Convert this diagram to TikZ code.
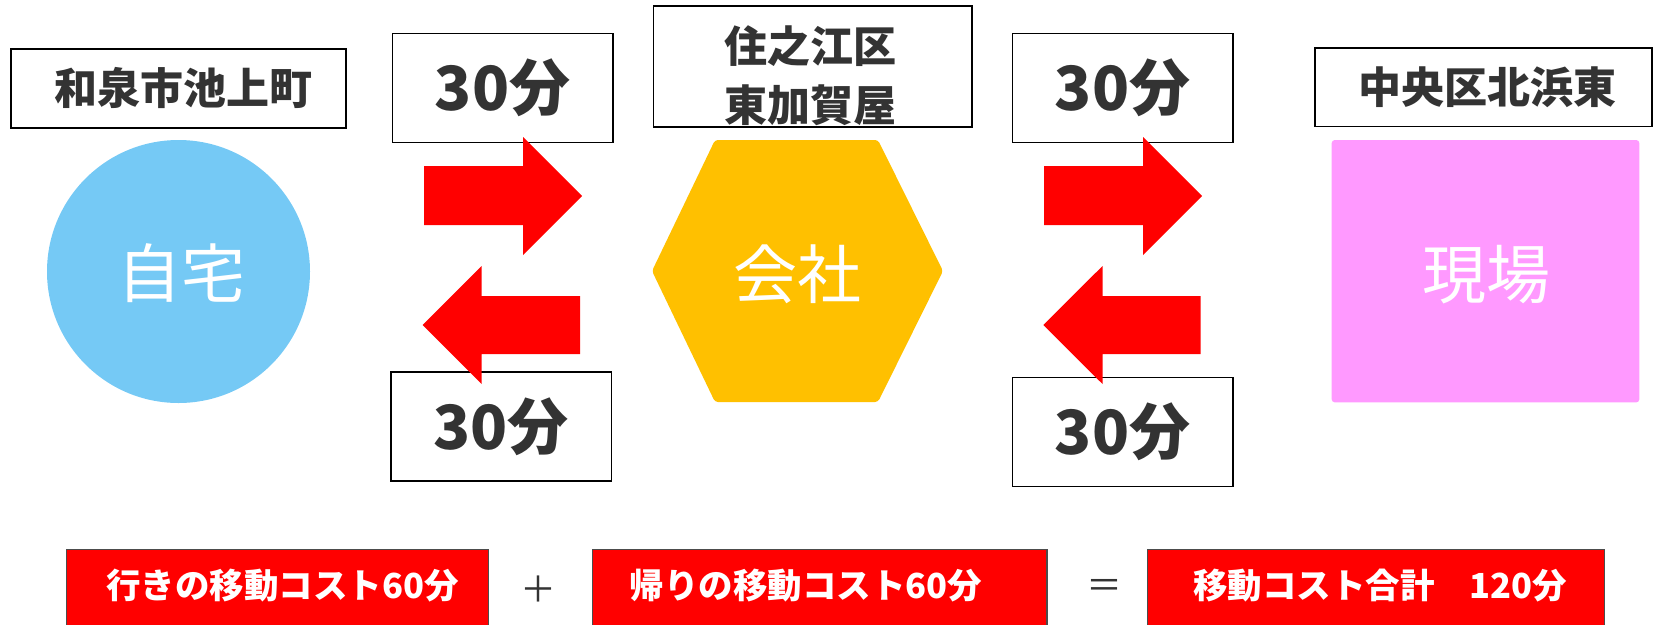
\documentclass[tikz,border=0pt]{standalone}
\usepackage{fontspec}
\newfontfamily\jp{Noto Sans CJK JP}
\definecolor{homeblue}{HTML}{75C9F5}
\definecolor{officegold}{HTML}{FFC000}
\definecolor{sitepink}{HTML}{FF99FF}
\definecolor{txtgray}{HTML}{333333}
\definecolor{arrowred}{HTML}{FF0000}
\tikzset{
  lblbox/.style={draw=black, line width=1.6pt, fill=white, inner sep=0pt},
  lbltext/.style={text=txtgray, inner sep=0pt, align=center, font=\jp\bfseries\fontsize{43}{59}\selectfont},
  timebox/.style={draw=black, line width=1.6pt, fill=white, inner sep=0pt, minimum width=220.4pt, minimum height=109pt, text=txtgray, font=\jp\bfseries\fontsize{61}{61}\selectfont},
  placetext/.style={text=white, inner sep=0pt, font=\jp\fontsize{64}{64}\selectfont},
  blockarrow/.style={fill=arrowred, draw=none},
  costbox/.style={draw=black!70, line width=1.5pt, fill=arrowred, inner sep=0pt, minimum height=80.7pt},
  costtext/.style={text=white, inner sep=0pt, font=\jp\bfseries\fontsize{34.5}{34.5}\selectfont},
  optext/.style={text=txtgray, inner sep=0pt, font=\jp\fontsize{36}{36}\selectfont}
}
\begin{document}
\begin{tikzpicture}[x=1pt,y=-1pt]
\useasboundingbox (0,0) rectangle (1653,624);

% places
\node[circle, fill=homeblue, minimum size=263pt, inner sep=0pt] (home) at (178.5,271.5) {};
\node[placetext] (homet) at (181,273) {自宅};
\coordinate (office) at (797.5,271);
\fill[officegold, rounded corners=3pt] (652,271) -- (715,140) -- (878,140) -- (943,271) -- (878,402) -- (715,402) -- cycle;
\node[placetext] (officet) at (797.5,274) {会社};
\node[rectangle, fill=sitepink, rounded corners=3pt, minimum width=307.6pt, minimum height=262.3pt, inner sep=0pt] (site) at (1485.5,271.2) {};
\node[placetext] (sitet) at (1486,275) {現場};

% address labels
\node[lblbox, minimum width=335pt, minimum height=79pt] (lhome) at (178.2,88.2) {};
\node[lbltext] (lhomet) at (183,87.6) {和泉市池上町};
\node[lblbox, minimum width=318.4pt, minimum height=120.7pt] (loffice) at (812.5,66.4) {};
\node[lbltext] (lofficet) at (810.5,75.5) {住之江区\\東加賀屋};
\node[lblbox, minimum width=336.5pt, minimum height=78.8pt] (lsite) at (1483.5,87.1) {};
\node[lbltext] (lsitet) at (1487.5,87) {中央区北浜東};

% time boxes
\node[timebox] (t1) at (502.5,88) {30分};
\node[timebox] (t2) at (501.2,426.4) {30分};
\node[timebox] (t3) at (1122.5,88) {30分};
\node[timebox] (t4) at (1122.5,432) {30分};

% block arrows
\fill[blockarrow] (424,166) -- (523,166) -- (523,137) -- (582,196) -- (523,255) -- (523,225) -- (424,225) -- cycle;
\fill[blockarrow] (422.5,325) -- (481.5,266) -- (481.5,296) -- (580,296) -- (580,354) -- (481.5,354) -- (481.5,384) -- cycle;
\fill[blockarrow] (1044,166) -- (1143,166) -- (1143,137) -- (1202,196) -- (1143,255) -- (1143,225) -- (1044,225) -- cycle;
\fill[blockarrow] (1043.3,325) -- (1102.5,266) -- (1102.5,296) -- (1200.7,296) -- (1200.7,354) -- (1102.5,354) -- (1102.5,384) -- cycle;

% cost boxes
\node[costbox, minimum width=421.6pt] (c1) at (277.5,589.7) {};
\node[costtext] (c1t) at (282.5,586) {行きの移動コスト60分};
\node[optext] (plus) at (538.7,589) {＋};
\node[costbox, minimum width=454.5pt] (c2) at (819.5,589.7) {};
\node[costtext] (c2t) at (806,586) {帰りの移動コスト60分};
\node[optext] (eq) at (1104,588.5) {＝};
\node[costbox, minimum width=456.8pt] (c3) at (1376,589.7) {};
\node[costtext] (c3t) at (1380,586) {移動コスト合計　120分};
\end{tikzpicture}
\end{document}
